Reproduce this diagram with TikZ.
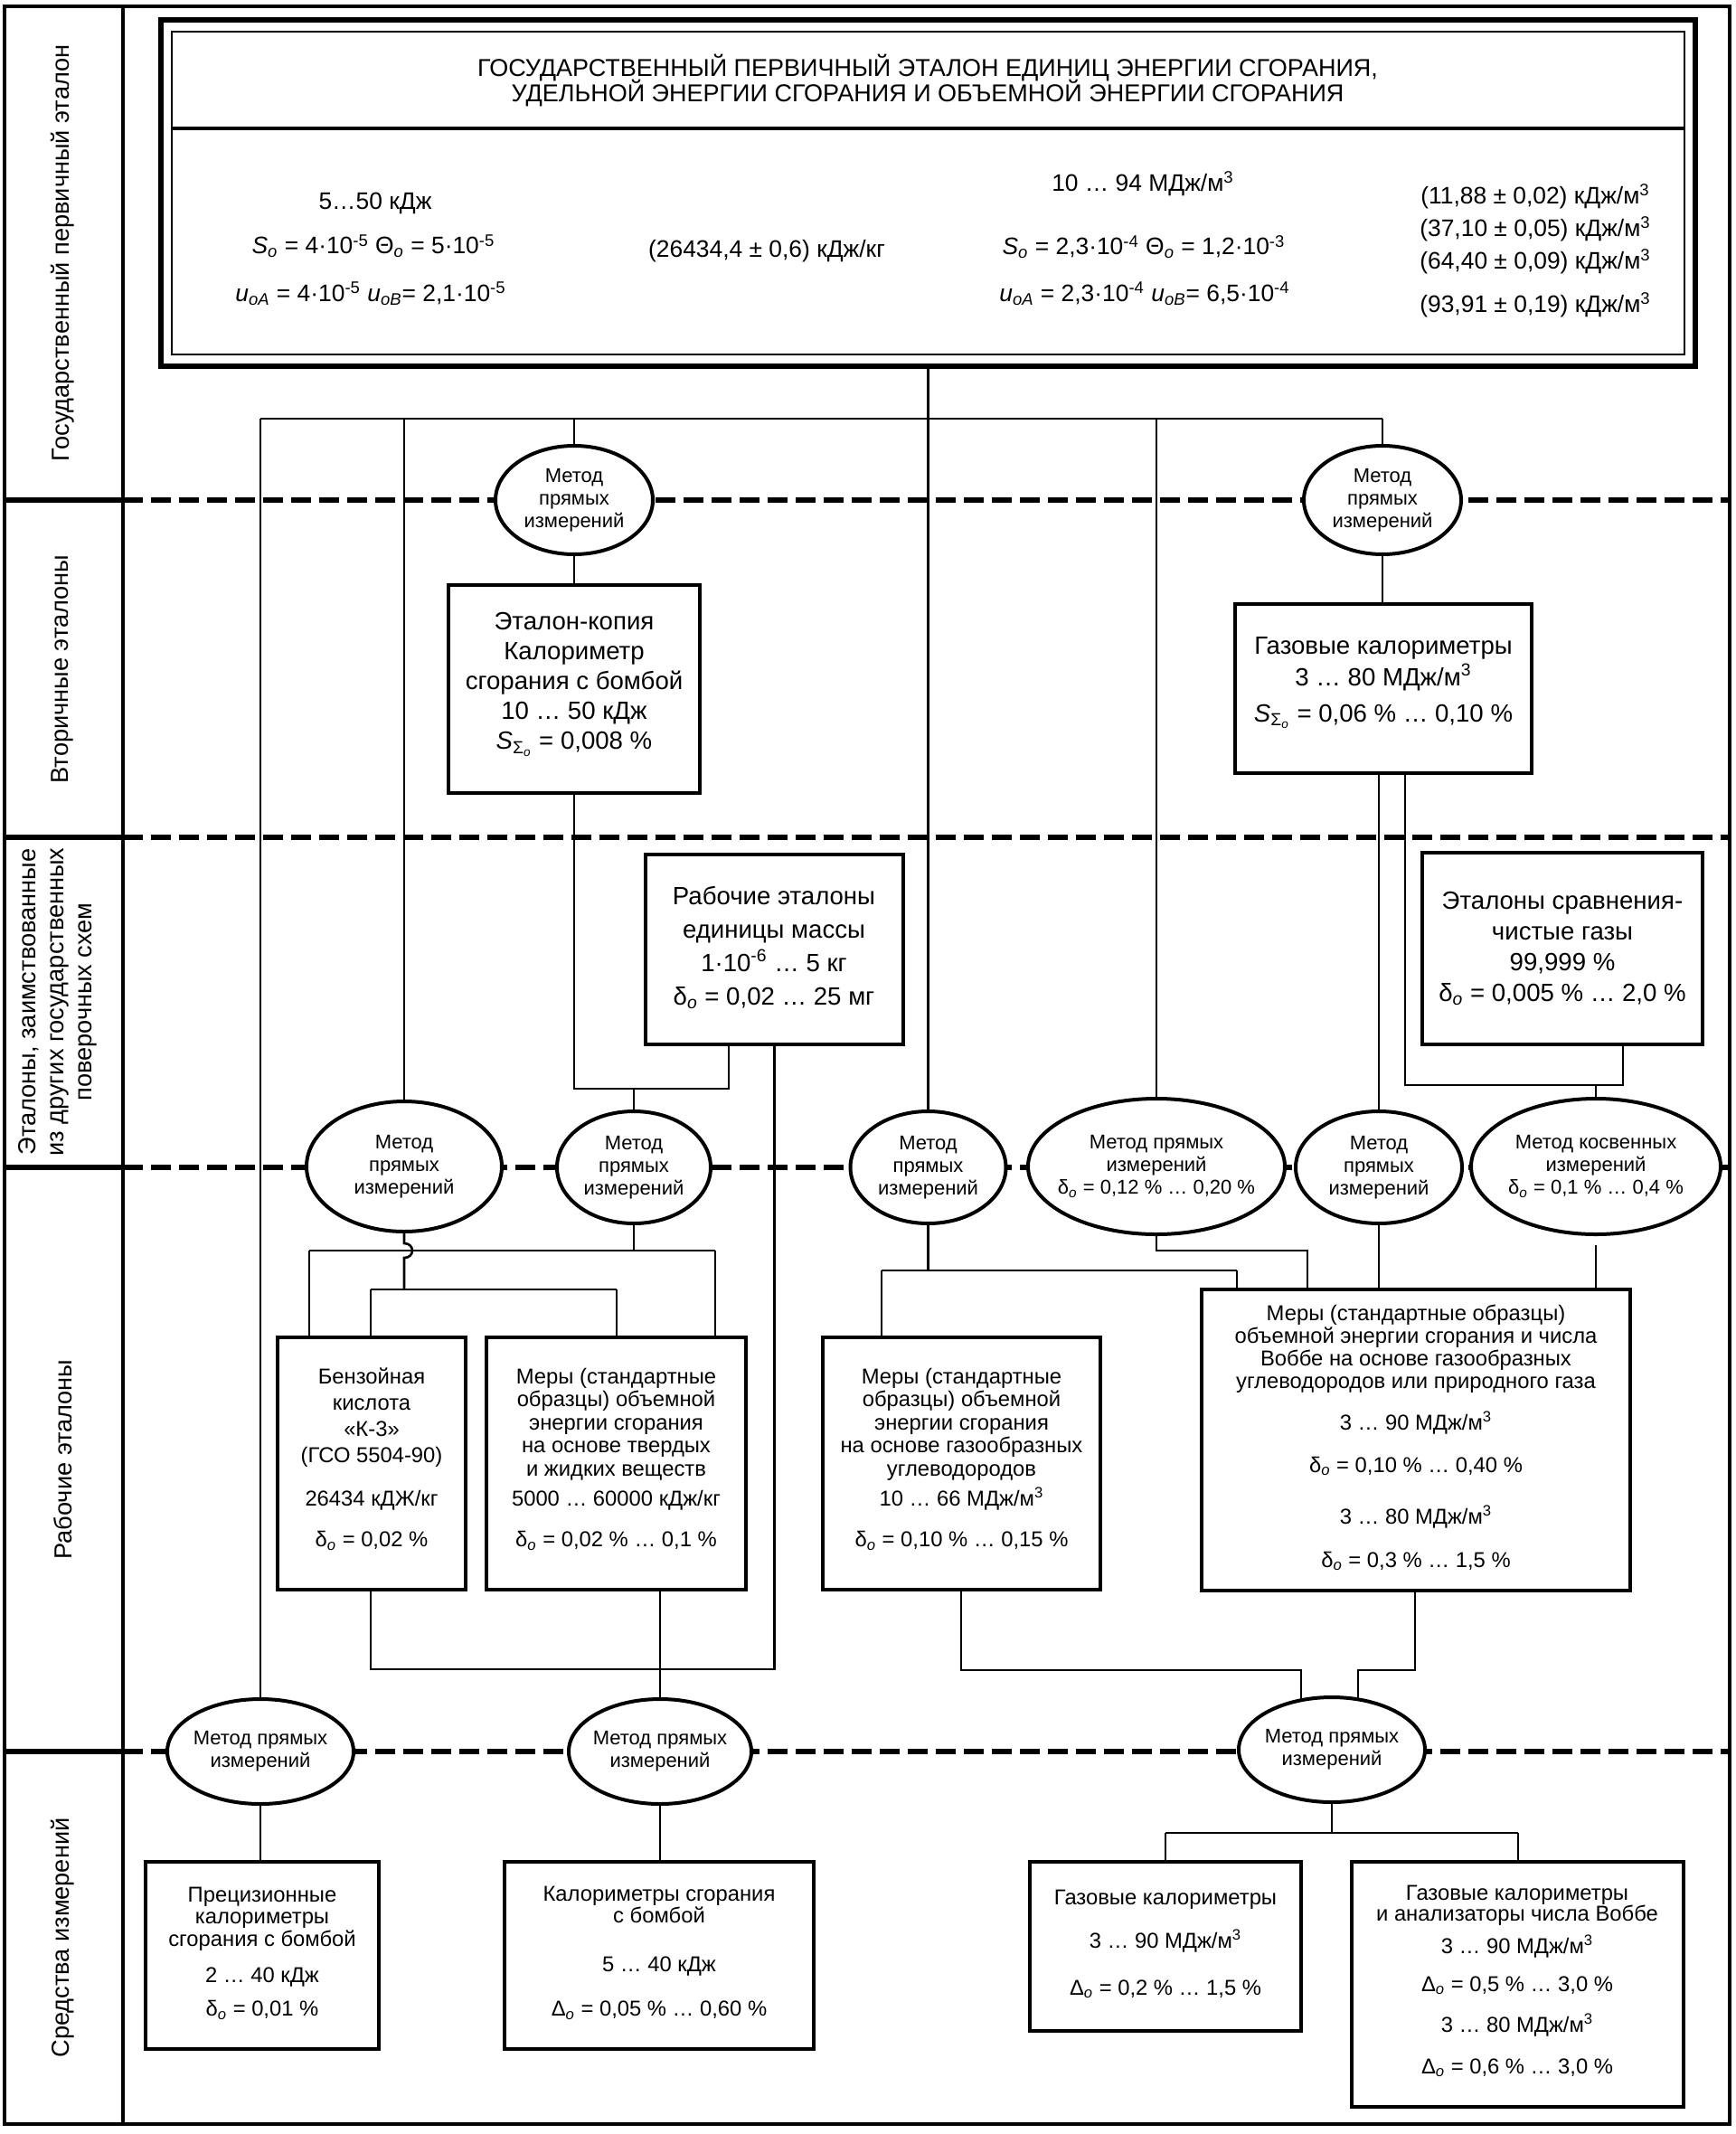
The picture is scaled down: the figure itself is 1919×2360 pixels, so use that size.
\documentclass[tikz,border=0pt]{standalone}
\usepackage{fontspec}
\setmainfont{Liberation Sans}
\usetikzlibrary{shapes.geometric}
\pgfdeclarelayer{bg}
\pgfsetlayers{bg,main}
\newcommand{\io}{\textsubscript{\textit{o}}}
\newcommand{\uoA}{\textit{u}\textsubscript{\textit{oA}}}
\newcommand{\uoB}{\textit{u}\textsubscript{\textit{oB}}}
\newcommand{\Ssig}{\textit{S}\textsubscript{Σ\textsubscript{\textit{o}}}}
\newcommand{\cub}{\textsuperscript{3}}
\newcommand{\fsz}[2]{\fontsize{#1}{#2}\selectfont\lineskiplimit=-50pt\relax}
\newcommand{\mybox}[6][boxst]{\node[#1, minimum width={(#5-#3)*0.5pt}, minimum height={(#6-#4)*0.5pt}] (#2) at ({(#3+#5)/2},{(#4+#6)/2}) {};}
\newcommand{\myell}[5]{\node[ellst, minimum width={#4*1pt}, minimum height={#5*1pt}] (#1) at (#2,#3) {};}
\begin{document}
\begin{tikzpicture}[x=0.5pt,y=-0.5pt,
  every node/.style={inner sep=0pt,outer sep=0pt},
  boxst/.style={draw,line width=2pt,fill=white},
  topout/.style={draw,line width=2.6pt,fill=white},
  topinn/.style={draw,line width=1.4pt},
  ellst/.style={draw,ellipse,line width=2pt,fill=white},
  conn/.style={line width=1.3pt},
  divd/.style={line width=2.8pt,dash pattern=on 11pt off 4.5pt},
  divs/.style={line width=2.8pt},
  frame/.style={line width=1.6pt},
  lab/.style={rotate=90,align=center,font=\fsz{13.6}{15.5}},
  ttx/.style={font=\fsz{13.2}{16}},
  sbt/.style={align=center,font=\fsz{13.8}{16.5}},
  lbt/.style={align=center,font=\fsz{11.9}{12.8}},
  elt/.style={align=center,font=\fsz{11}{12.5}}]
\path[use as bounding box] (0,0) rectangle (1919,2360);

% ---------- boxes ----------
\mybox[topout]{top}{178}{22}{1875}{405}
\mybox[topinn]{topin}{190}{35}{1863}{392}
\coordinate (tdv) at (0,142);
\draw[line width=2pt] (topin.west |- tdv) -- (topin.east |- tdv);
\mybox{EK}{496}{647}{774}{877}
\mybox{GK}{1366}{668}{1694}{855}
\mybox{RM}{714}{945}{999}{1155}
\mybox{ES}{1573}{943}{1883}{1155}
\mybox{BK}{307}{1479}{515}{1758}
\mybox{M1}{538}{1479}{825}{1758}
\mybox{M2}{910}{1479}{1217}{1758}
\mybox{M3}{1329}{1426}{1803}{1759}
\mybox{P1}{161}{2059}{419}{2266}
\mybox{P2}{558}{2059}{900}{2266}
\mybox{P3}{1139}{2059}{1439}{2246}
\mybox{P4}{1495}{2059}{1862}{2330}

% ---------- ellipses ----------
\myell{A1}{635}{553}{87}{60}
\myell{A2}{1529}{553}{87}{60}
\myell{B1}{447}{1290}{108}{72}
\myell{B2}{701}{1291}{85}{62}
\myell{B3}{1026.5}{1291}{86}{62}
\myell{B4}{1279}{1290}{142}{75}
\myell{B5}{1525}{1291}{92}{62}
\myell{B6}{1765}{1290}{138}{75}
\myell{C1}{288}{1937}{103}{58}
\myell{C2}{730}{1937}{101}{58}
\myell{C3}{1473}{1935}{103}{58}

% ---------- left labels ----------
\node[lab] (L1) at (69,280) {Государственный первичный эталон};
\node[lab] (L2) at (69,740) {Вторичные эталоны};
\node[lab] (L3) at (64,1108) {Эталоны, заимствованные\\из других государственных\\поверочных схем};
\node[lab] (L4) at (70,1614) {Рабочие эталоны};
\node[lab] (L5) at (69,2143) {Средства измерений};

% ---------- top box text ----------
\node[align=center,font=\fsz{13.5}{14}] (T0) at (1026,89) {ГОСУДАРСТВЕННЫЙ ПЕРВИЧНЫЙ ЭТАЛОН ЕДИНИЦ ЭНЕРГИИ СГОРАНИЯ,\\УДЕЛЬНОЙ ЭНЕРГИИ СГОРАНИЯ И ОБЪЕМНОЙ ЭНЕРГИИ СГОРАНИЯ};
\node[ttx] (T11) at (415,225) {5…50 кДж};
\node[ttx] (T12) at (413,272) {\textit{S}\io{} = 4·10\textsuperscript{-5} Θ\io{} = 5·10\textsuperscript{-5}};
\node[ttx] (T13) at (410,325) {\uoA{} = 4·10\textsuperscript{-5} \uoB= 2,1·10\textsuperscript{-5}};
\node[ttx] (T2) at (848,278) {(26434,4 ± 0,6) кДж/кг};
\node[ttx] (T31) at (1264,203) {10 … 94 МДж/м\cub};
\node[ttx] (T32) at (1265,273) {\textit{S}\io{} = 2,3·10\textsuperscript{-4} Θ\io{} = 1,2·10\textsuperscript{-3}};
\node[ttx] (T33) at (1266,325) {\uoA{} = 2,3·10\textsuperscript{-4} \uoB= 6,5·10\textsuperscript{-4}};
\node[ttx] (T41) at (1698,217) {(11,88 ± 0,02) кДж/м\cub};
\node[ttx] (T42) at (1698,253) {(37,10 ± 0,05) кДж/м\cub};
\node[ttx] (T43) at (1698,289) {(64,40 ± 0,09) кДж/м\cub};
\node[ttx] (T44) at (1698,337) {(93,91 ± 0,19) кДж/м\cub};

% ---------- box texts ----------
\node[sbt] (EKt) at (635,757) {Эталон-копия\\Калориметр\\сгорания с бомбой\\10 … 50 кДж\\\Ssig{} = 0,008 \%};
\node[sbt,font=\fsz{13.8}{17.5}] (GKt) at (1530,755) {Газовые калориметры\\3 … 80 МДж/м\cub\\[2.5pt]\Ssig{} = 0,06 \% … 0,10 \%};
\node[sbt,font=\fsz{13.8}{18.5}] (RMt) at (856,1048) {Рабочие эталоны\\единицы массы\\1·10\textsuperscript{-6} … 5 кг\\δ\io{} = 0,02 … 25 мг};
\node[sbt,font=\fsz{13.8}{17}] (ESt) at (1728,1049) {Эталоны сравнения-\\чистые газы\\99,999 \%\\δ\io{} = 0,005 \% … 2,0 \%};
\node[lbt,font=\fsz{11.9}{14.5}] (BKt) at (411,1614) {Бензойная\\кислота\\«К-3»\\(ГСО 5504-90)\\[9.5pt]26434 кДЖ/кг\\[8pt]δ\io{} = 0,02 \%};
\node[lbt] (M1t) at (681.5,1613.5) {Меры (стандартные\\образцы) объемной\\энергии сгорания\\на основе твердых\\и жидких веществ\\[3.7pt]5000 … 60000 кДж/кг\\[9.7pt]δ\io{} = 0,02 \% … 0,1 \%};
\node[lbt] (M2t) at (1063.5,1613.5) {Меры (стандартные\\образцы) объемной\\энергии сгорания\\на основе газообразных\\углеводородов\\[3.7pt]10 … 66 МДж/м\cub\\[9.7pt]δ\io{} = 0,10 \% … 0,15 \%};
\node[lbt,font=\fsz{11.9}{12.5}] (M3t) at (1566,1590) {Меры (стандартные образцы)\\объемной энергии сгорания и числа\\Воббе на основе газообразных\\углеводородов или природного газа\\[10.5pt]3 … 90 МДж/м\cub\\[11pt]δ\io{} = 0,10 \% … 0,40 \%\\[16pt]3 … 80 МДж/м\cub\\[11.5pt]δ\io{} = 0,3 \% … 1,5 \%};
\node[lbt,font=\fsz{11.9}{12.3}] (P1t) at (290,2160) {Прецизионные\\калориметры\\сгорания с бомбой\\[8pt]2 … 40 кДж\\[6pt]δ\io{} = 0,01 \%};
\node[lbt,font=\fsz{11.9}{12}] (P2t) at (729,2160) {Калориметры сгорания\\с бомбой\\[15pt]5 … 40 кДж\\[12.5pt]Δ\io{} = 0,05 \% … 0,60 \%};
\node[lbt,font=\fsz{11.9}{12}] (P3t) at (1289,2150) {Газовые калориметры\\[12pt]3 … 90 МДж/м\cub\\[14pt]Δ\io{} = 0,2 \% … 1,5 \%};
\node[lbt,font=\fsz{11.9}{11.5}] (P4t) at (1678,2191) {Газовые калориметры\\и анализаторы числа Воббе\\[6.5pt]3 … 90 МДж/м\cub\\[9.5pt]Δ\io{} = 0,5 \% … 3,0 \%\\[11pt]3 … 80 МДж/м\cub\\[11.5pt]Δ\io{} = 0,6 \% … 3,0 \%};

% ---------- ellipse texts ----------
\node[elt] (A1t) at (A1) {Метод\\прямых\\измерений};
\node[elt] (A2t) at (A2) {Метод\\прямых\\измерений};
\node[elt] (B1t) at (B1) {Метод\\прямых\\измерений};
\node[elt] (B2t) at (B2) {Метод\\прямых\\измерений};
\node[elt] (B3t) at (B3) {Метод\\прямых\\измерений};
\node[elt] (B4t) at (B4) {Метод прямых\\измерений\\δ\io{} = 0,12 \% … 0,20 \%};
\node[elt] (B5t) at (B5) {Метод\\прямых\\измерений};
\node[elt] (B6t) at (B6) {Метод косвенных\\измерений\\δ\io{} = 0,1 \% … 0,4 \%};
\node[elt] (C1t) at (C1) {Метод прямых\\измерений};
\node[elt] (C2t) at (C2) {Метод прямых\\измерений};
\node[elt] (C3t) at (C3) {Метод прямых\\измерений};

% ---------- background: frame, dividers, connectors ----------
\begin{pgfonlayer}{bg}
\fill[white] (0,0) rectangle (1919,2360);
\draw[frame] (5,7) rectangle (1913,2349);
\draw[frame] (136,7) -- (136,2349);
\foreach \yy in {553,926,1291,1937} {
  \draw[divs] (5,\yy) -- (136,\yy);
  \draw[divd] (136,\yy) -- (1913,\yy);
}
% bus
\coordinate (busL) at (288,463);
\coordinate (busR) at (1529,463);
\coordinate (bB1) at (447,463);
\coordinate (bA1) at (635,463);
\coordinate (bB4) at (1279,463);
\draw[conn] (busL) -- (busR);
\draw[conn] (top.south) -- (top.south |- B3.center);
\draw[conn] (busL) -- (C1.center);
\draw[conn] (bB1) -- (B1.center);
\draw[conn] (bA1) -- (A1.center);
\draw[conn] (bB4) -- (B4.center);
\draw[conn] (busR) -- (A2.center);
\draw[conn] (A1.center) -- (EK.north);
\draw[conn] (A2.center) -- (GK.north -| A2.center);
% row 3
\coordinate (e1) at (635,1204);
\coordinate (e2) at (806,1204);
\coordinate (e3) at (701,1204);
\draw[conn] (EK.south) -- (e1) -- (e2) -- (e2 |- RM.south);
\draw[conn] (e3) -- (B2.center);
\coordinate (r1) at (856.5,1846);
\coordinate (r2) at (410,1846);
\draw[conn] (RM.south) -- (r1) -- (r2) -- (r2 |- BK.south);
\draw[conn] (M1.south -| C2.center) -- (C2.center);
\coordinate (g1) at (1554,1200);
\coordinate (g2) at (1795,1200);
\coordinate (g3) at (1765,1200);
\draw[conn] (GK.south -| g1) -- (g1) -- (g2) -- (g2 |- ES.south);
\draw[conn] (GK.south -| B5.center) -- (B5.center);
\draw[conn] (g3) -- (B6.center);
% row 4
\coordinate (k1) at (447,1375);
\coordinate (k2) at (447,1391);
\coordinate (k3) at (447,1426);
\coordinate (k4) at (410,1426);
\coordinate (k5) at (682,1426);
\draw[conn] (B1.center) -- (k1) .. controls (459,1375) and (459,1391) .. (k2) -- (k3);
\draw[conn] (k4) -- (k5);
\draw[conn] (k4) -- (k4 |- BK.north);
\draw[conn] (k5) -- (k5 |- M1.north);
\coordinate (m1) at (342,1383);
\coordinate (m2) at (791,1383);
\draw[conn] (B2.center) -- (B2.center |- m1);
\draw[conn] (m1) -- (m2);
\draw[conn] (m1) -- (m1 |- BK.north);
\draw[conn] (m2) -- (m2 |- M1.north);
\coordinate (n1) at (975,1405);
\coordinate (n2) at (1368,1405);
\draw[conn] (B3.center) -- (B3.center |- n1);
\draw[conn] (n1) -- (n2);
\draw[conn] (n1) -- (n1 |- M2.north);
\draw[conn] (n2) -- (n2 |- M3.north);
\coordinate (p1) at (1279,1383);
\coordinate (p2) at (1446,1383);
\draw[conn] (B4.center) -- (p1) -- (p2) -- (p2 |- M3.north);
\draw[conn] (B5.center) -- (B5.center |- M3.north);
\coordinate (q1) at (1765,1377);
\draw[conn] (q1) -- (q1 |- M3.north);
% bottom of row 4
\coordinate (s1) at (1063,1847);
\coordinate (s2) at (1439,1847);
\draw[conn] (M2.south -| s1) -- (s1) -- (s2) -- (s2 |- C3.center);
\coordinate (t1) at (1565,1847);
\coordinate (t2) at (1502,1847);
\draw[conn] (M3.south -| t1) -- (t1) -- (t2) -- (t2 |- C3.center);
% row 5
\draw[conn] (C1.center) -- (P1.north -| C1.center);
\draw[conn] (C2.center) -- (P2.north -| C2.center);
\coordinate (u1) at (1289,2027);
\coordinate (u2) at (1679,2027);
\draw[conn] (C3.center) -- (C3.center |- u1);
\draw[conn] (u1) -- (u2);
\draw[conn] (u1) -- (u1 |- P3.north);
\draw[conn] (u2) -- (u2 |- P4.north);
\end{pgfonlayer}
\end{tikzpicture}
\end{document}
